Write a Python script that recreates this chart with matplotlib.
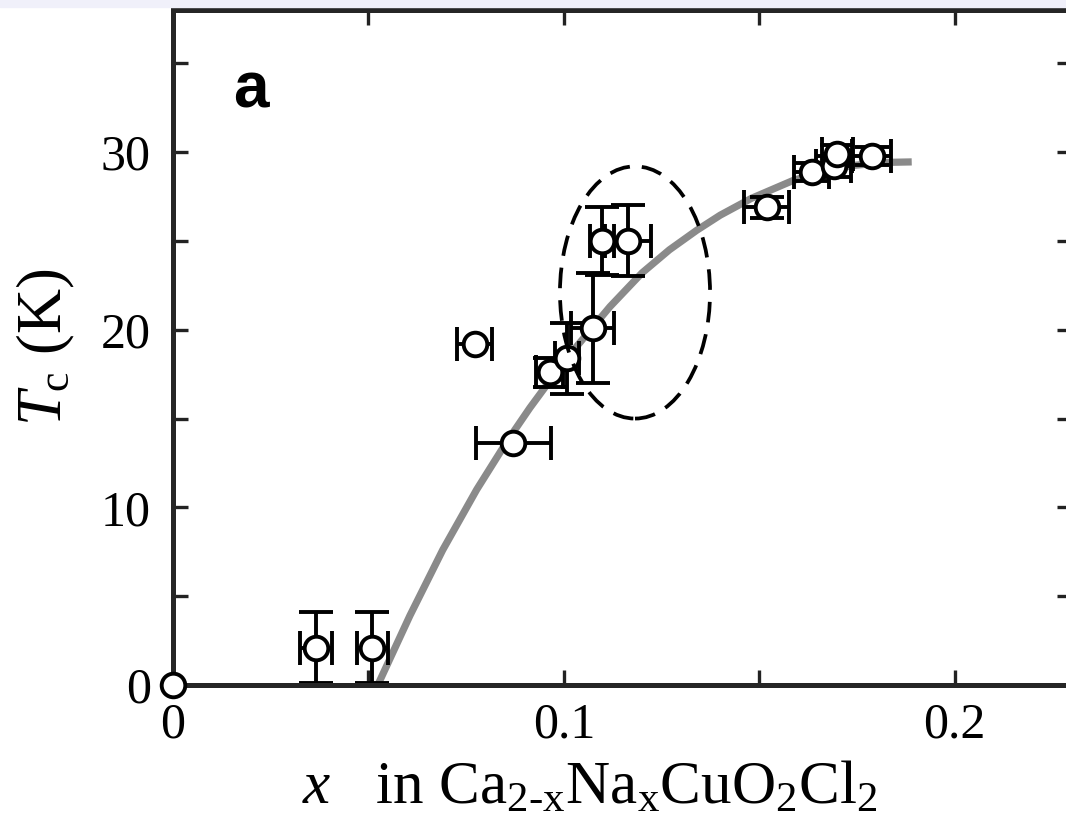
"""
Tc vs Na doping x in Ca2-xNaxCuO2Cl2 (panel a)
"""

import matplotlib
matplotlib.use('Agg')
import matplotlib.pyplot as plt
from matplotlib.patches import Ellipse, Rectangle
import numpy as np

# ----data----
x_pts = [0.0366, 0.0510, 0.0772, 0.0870, 0.0964, 0.1008, 0.1074, 0.1097,
         0.1164, 0.1519, 0.1634, 0.1690, 0.1700, 0.1788]
tc_pts = [2.1, 2.1, 19.2, 13.6, 17.6, 18.4, 20.1, 25.0,
          25.0, 26.9, 28.9, 29.2, 29.9, 29.8]
x_err = [0.004, 0.004, 0.0045, 0.0096, 0.0035, 0.003, 0.0055, 0.003,
         0.006, 0.0058, 0.0045, 0.0045, 0.004, 0.005]
tc_err = [2.0, 2.0, 0.0, 0.0, 0.8, 2.0, 3.1, 1.9,
          2.0, 0.6, 0.5, 0.6, 0.5, 0.5]

# undoped point sitting on the origin
x_origin = [0.0]
tc_origin = [0.0]

# guide-to-the-eye curve (traced)
x_curve = [0.0524, 0.0606, 0.0690, 0.0777, 0.0854, 0.0913, 0.1000, 0.1118,
           0.1200, 0.1270, 0.1340, 0.1400, 0.1480, 0.1586, 0.1660, 0.1740,
           0.1820, 0.1890]
tc_curve = [0.0, 3.9, 7.6, 11.0, 13.7, 15.6, 18.2, 21.3,
            23.2, 24.5, 25.6, 26.45, 27.4, 28.4, 28.9, 29.25,
            29.42, 29.45]

# dashed ellipse highlighting the cluster
ell_center = (0.1182, 22.1)
ell_width = 0.0384
ell_height = 14.2

xticks = [0.0, 0.05, 0.1, 0.15, 0.2]
xticklabels = ['0', '', '0.1', '', '0.2']
yticks = [0, 5, 10, 15, 20, 25, 30, 35]
yticklabels = ['0', '', '10', '', '20', '', '30', '']


def main():
    plt.rcParams['font.family'] = ['Liberation Serif', 'DejaVu Serif']
    plt.rcParams['mathtext.fontset'] = 'custom'
    plt.rcParams['mathtext.rm'] = 'Liberation Serif'
    plt.rcParams['mathtext.it'] = 'Liberation Serif:italic'
    plt.rcParams['xtick.direction'] = 'in'
    plt.rcParams['ytick.direction'] = 'in'

    fig = plt.figure(figsize=(10.66, 8.23), dpi=100)
    ax = fig.add_axes([0.1623, 0.1677, 0.8433, 0.8201])

    # light band along the top edge of the scan
    fig.patches.append(Rectangle((0, 1 - 7 / 823), 1, 7 / 823,
                                 transform=fig.transFigure,
                                 color='#f0f0fa', zorder=0))

    ax.plot(x_curve, tc_curve, color='#8a8a8a', linewidth=5.2,
            solid_capstyle='butt', solid_joinstyle='round', zorder=1)

    for i in range(len(x_pts)):
        ye = tc_err[i] if tc_err[i] > 0 else None
        ax.errorbar(x_pts[i], tc_pts[i], xerr=x_err[i], yerr=ye, fmt='none',
                    ecolor='black', elinewidth=2.8, capsize=12, capthick=2.8,
                    zorder=2)

    ax.plot(x_pts, tc_pts, linestyle='none', marker='o', markersize=17,
            markerfacecolor='white', markeredgecolor='black',
            markeredgewidth=2.8, zorder=3)
    ax.plot(x_origin, tc_origin, linestyle='none', marker='o', markersize=17,
            markerfacecolor='white', markeredgecolor='black',
            markeredgewidth=2.8, zorder=5, clip_on=False)

    ax.add_patch(Ellipse(ell_center, ell_width, ell_height, fill=False,
                         edgecolor='black', linewidth=2.7,
                         linestyle=(0, (5.5, 3.2)), zorder=4))

    ax.text(0.067, 0.855, 'a', transform=ax.transAxes, fontsize=46,
            fontweight='bold', family=['Liberation Sans', 'DejaVu Sans'])

    ax.set_xlim(0, 0.23)
    ax.set_ylim(0, 38)
    ax.set_xticks(xticks)
    ax.set_xticklabels(xticklabels)
    ax.set_yticks(yticks)
    ax.set_yticklabels(yticklabels)
    ax.xaxis.set_ticks_position('both')
    ax.yaxis.set_ticks_position('both')
    ax.tick_params(axis='both', length=11, width=2.4, color='#222222',
                   labelsize=36)
    ax.tick_params(axis='x', pad=12)
    ax.tick_params(axis='y', pad=16)

    for side in ['left', 'right', 'top', 'bottom']:
        ax.spines[side].set_linewidth(3.6)
        ax.spines[side].set_color('#262626')

    ax.set_xlabel(r'$x$   in Ca$_{\mathrm{2\text{-}x}}$Na$_{\mathrm{x}}$'
                  r'CuO$_{\mathrm{2}}$Cl$_{\mathrm{2}}$', fontsize=44)
    ax.xaxis.set_label_coords((590 - 173) / 899, -0.113)
    ax.set_ylabel(r'$T_{\mathrm{c}}$ (K)', fontsize=45)
    ax.yaxis.set_label_coords(-0.107, 0.5)

    plt.savefig('out.png', dpi=100)
    plt.close()


if __name__ == '__main__':

    main()
